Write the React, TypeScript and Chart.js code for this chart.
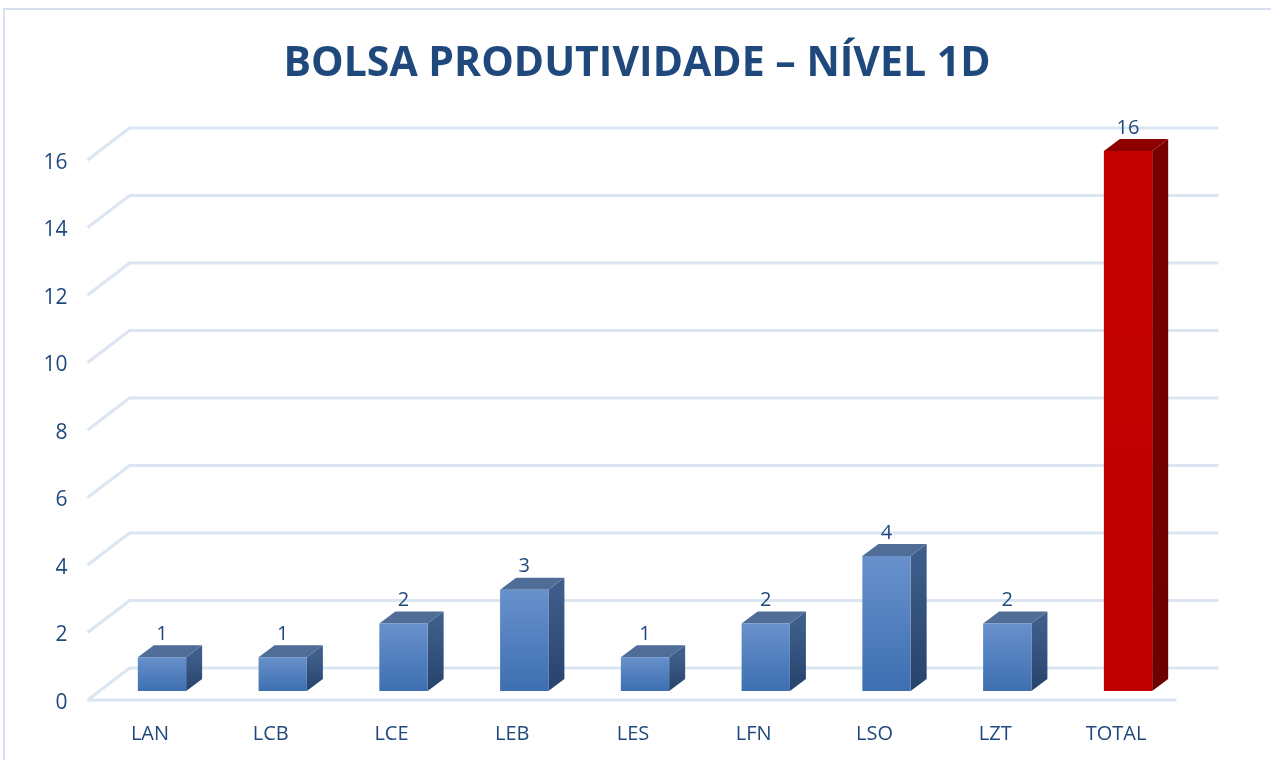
import React, { useEffect, useRef } from "react";
import { Chart, registerables } from "chart.js";

Chart.register(...registerables);

const TITLE = "BOLSA PRODUTIVIDADE – NÍVEL 1D";
const categories = ["LAN", "LCB", "LCE", "LEB", "LES", "LFN", "LSO", "LZT", "TOTAL"];
const values = [1, 1, 2, 3, 1, 2, 4, 2, 16];
const highlighted = ["TOTAL"];
const yMin = 0;
const yMax = 16;
const yStep = 2;

const TEXT = "#1F497D";
const GRID = "#DCE5F2";
const FONT = "'Open Sans', sans-serif";

const BLUE = { top: "#4F6D97", frontA: "#6891CC", frontB: "#3D6FB1", sideA: "#3E5D8A", sideB: "#26436C" };
const RED = { top: "#8E0000", frontA: "#C40000", frontB: "#BE0000", sideA: "#7A0000", sideB: "#6E0000" };

// 3D projection offsets
const GX = 42, GY = 32; // grid depth
const BX = 12, BY = 9; // bar front offset within depth
const DX = 16, DY = 12; // bar depth

const depth3d = {
  id: "depth3d",
  beforeDraw(chart: any) {
    const ctx = chart.ctx;
    ctx.save();
    ctx.fillStyle = "#ffffff";
    ctx.fillRect(0, 0, chart.width, chart.height);
    ctx.strokeStyle = "#D6E0EE";
    ctx.lineWidth = 2;
    ctx.strokeRect(4, 9, chart.width + 20, chart.height + 20);
    ctx.fillStyle = TEXT;
    ctx.font = `bold 41px ${FONT}`;
    ctx.textAlign = "center";
    ctx.textBaseline = "middle";
    ctx.fillText(TITLE, 637, 64);
    ctx.restore();
  },
  beforeDatasetsDraw(chart: any) {
    const { ctx, chartArea, scales } = chart;
    const { left, right } = chartArea;
    const y = scales.y;
    ctx.save();
    ctx.strokeStyle = GRID;
    ctx.lineWidth = 3;
    ctx.lineCap = "butt";
    y.ticks.forEach((t: any) => {
      const py = y.getPixelForValue(t.value);
      ctx.beginPath();
      ctx.moveTo(left - 2, py);
      ctx.lineTo(left - 2 + GX, py - GY);
      ctx.lineTo(right + GX, py - GY);
      ctx.stroke();
    });
    const p0 = y.getPixelForValue(yMin);
    ctx.beginPath();
    ctx.moveTo(left - 2, p0);
    ctx.lineTo(right, p0);
    ctx.stroke();
    ctx.restore();
  },
  afterDatasetsDraw(chart: any) {
    const { ctx } = chart;
    const meta = chart.getDatasetMeta(0);
    ctx.save();
    meta.data.forEach((bar: any, i: number) => {
      const { x, y, base, width } = bar.getProps(["x", "y", "base", "width"], true);
      const c = highlighted.includes(categories[i]) ? RED : BLUE;
      const fx0 = x + BX - width / 2;
      const fx1 = x + BX + width / 2;
      const fy0 = y - BY;
      const fy1 = base - BY;
      // side
      const sg = ctx.createLinearGradient(0, fy0, 0, fy1);
      sg.addColorStop(0, c.sideA);
      sg.addColorStop(1, c.sideB);
      ctx.fillStyle = sg;
      ctx.beginPath();
      ctx.moveTo(fx1, fy0);
      ctx.lineTo(fx1 + DX, fy0 - DY);
      ctx.lineTo(fx1 + DX, fy1 - DY);
      ctx.lineTo(fx1, fy1);
      ctx.closePath();
      ctx.fill();
      // top
      ctx.fillStyle = c.top;
      ctx.beginPath();
      ctx.moveTo(fx0, fy0);
      ctx.lineTo(fx0 + DX, fy0 - DY);
      ctx.lineTo(fx1 + DX, fy0 - DY);
      ctx.lineTo(fx1, fy0);
      ctx.closePath();
      ctx.fill();
      // front
      const fg = ctx.createLinearGradient(0, fy0, 0, fy1);
      fg.addColorStop(0, c.frontA);
      fg.addColorStop(1, c.frontB);
      ctx.fillStyle = fg;
      ctx.fillRect(fx0, fy0, fx1 - fx0, fy1 - fy0);
      // label
      ctx.fillStyle = TEXT;
      ctx.font = `20px ${FONT}`;
      ctx.textAlign = "center";
      ctx.textBaseline = "middle";
      ctx.fillText(String(values[i]), x + BX, fy0 - 23);
    });
    ctx.restore();
  },
};

export default function App() {
  const ref = useRef<HTMLCanvasElement | null>(null);
  useEffect(() => {
    document.body.style.margin = "0";
    const chart = new Chart(ref.current as HTMLCanvasElement, {
      type: "bar",
      data: {
        labels: categories,
        datasets: [
          {
            data: values,
            backgroundColor: "rgba(0,0,0,0)",
            borderWidth: 0,
            categoryPercentage: 1,
            barPercentage: 0.4,
          },
        ],
      },
      options: {
        responsive: false,
        animation: false,
        layout: { padding: { top: 160, left: 0, right: 94.6, bottom: 0 } },
        plugins: {
          legend: { display: false },
          tooltip: { enabled: false },
          title: { display: false },
        },
        scales: {
          x: {
            grid: { display: false },
            border: { display: false },
            ticks: { color: TEXT, font: { family: FONT, size: 20 }, padding: 14 },
            afterFit: (s: any) => {
              s.height = 60;
            },
          },
          y: {
            min: yMin,
            max: yMax,
            grid: { display: false, drawTicks: false },
            border: { display: false },
            ticks: {
              stepSize: yStep,
              color: TEXT,
              font: { family: FONT, size: 21 },
              padding: 22,
              labelOffset: 3,
            },
            afterFit: (s: any) => {
              s.width = 89.6;
            },
          },
        },
      },
      plugins: [depth3d],
    });
    return () => chart.destroy();
  }, []);
  return (
    <div style={{ width: 1271, height: 760, overflow: "hidden" }}>
      <canvas ref={ref} width={1271} height={760} style={{ display: "block" }} />
    </div>
  );
}
